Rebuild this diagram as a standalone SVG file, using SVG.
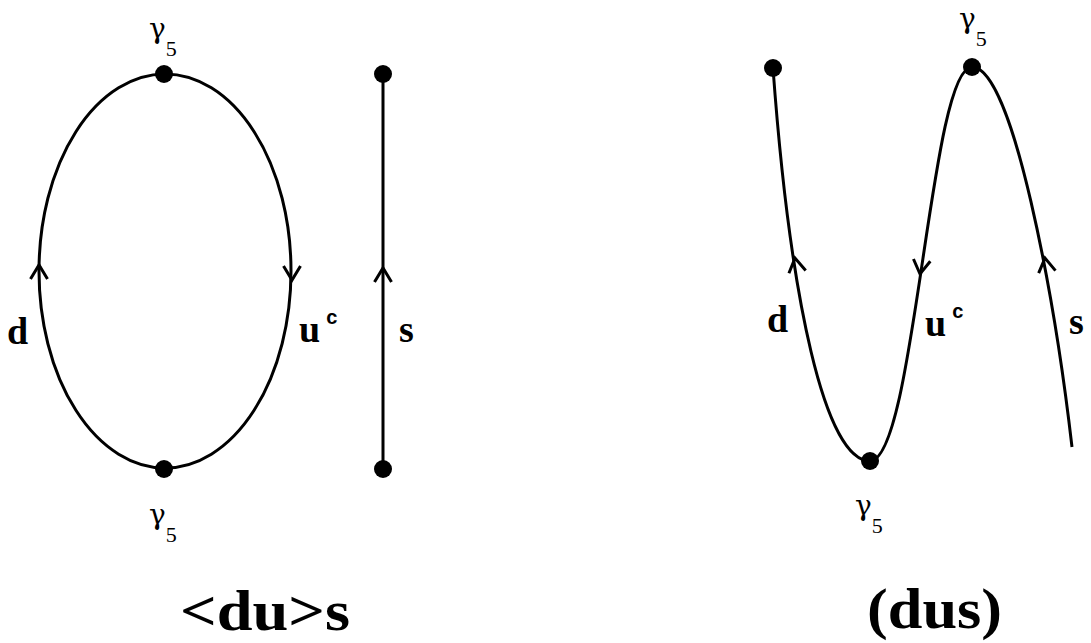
<svg xmlns="http://www.w3.org/2000/svg" width="1091" height="643" viewBox="0 0 1091 643">
<style>
.ln{fill:none;stroke:#000;stroke-width:3}
.ch{fill:none;stroke:#000;stroke-width:3;stroke-linejoin:miter}
.dot{fill:#000}
.g{font-family:"DejaVu Serif","Liberation Serif",serif;font-size:28px;fill:#000}
.sub{font-family:"Liberation Serif",serif;font-size:22px}
.lb{font-family:"Liberation Serif",serif;font-weight:bold;font-size:38px;fill:#000}
.sup{font-family:"Liberation Sans",sans-serif;font-size:20px}
.tt{font-family:"Liberation Serif",serif;font-weight:bold;font-size:56px;fill:#000}
</style>
<defs>
<path id="chev" class="ch" d="M-8.5,14 L0,0 L8.5,14"/>
</defs>
<rect width="1091" height="643" fill="#fff"/>
<g id="connectors">
<ellipse class="ln" cx="165" cy="271" rx="126" ry="197"/>
<line class="ln" x1="383" y1="74" x2="383" y2="469"/>
<path class="ln" d="M773,68 C790,300 825,461 870,461 C915,461 930,67 972,67 C1013,67 1055,300 1072,447"/>
<use href="#chev" transform="translate(39,265)"/>
<use href="#chev" transform="translate(292,280) rotate(180)"/>
<use href="#chev" transform="translate(383,268)"/>
<use href="#chev" transform="translate(795,258) rotate(-9.5)"/>
<use href="#chev" transform="translate(920,274) rotate(187.7)"/>
<use href="#chev" transform="translate(1045,258) rotate(-8.5)"/>
</g>
<g id="n_top_left"><circle class="dot" cx="164" cy="74" r="9"/><text class="g" x="149" y="38">γ<tspan class="sub" dy="18">5</tspan></text></g>
<g id="n_bot_left"><circle class="dot" cx="164" cy="469" r="9"/><text class="g" x="149" y="524">γ<tspan class="sub" dy="18">5</tspan></text></g>
<g id="n_s_top"><circle class="dot" cx="383" cy="74" r="9"/></g>
<g id="n_s_bot"><circle class="dot" cx="383" cy="469" r="9"/></g>
<g id="n_r_start"><circle class="dot" cx="773" cy="68" r="9"/></g>
<g id="n_r_bot"><circle class="dot" cx="870" cy="461" r="9"/><text class="g" x="855" y="515">γ<tspan class="sub" dy="18">5</tspan></text></g>
<g id="n_r_top"><circle class="dot" cx="972" cy="67" r="9"/><text class="g" x="959" y="28">γ<tspan class="sub" dy="18">5</tspan></text></g>
<g id="labels">
<text class="lb" x="7" y="344">d</text>
<text class="lb" x="299" y="342">u<tspan class="sup" dx="6" dy="-18">c</tspan></text>
<text class="lb" x="399" y="342">s</text>
<text class="lb" x="767" y="332">d</text>
<text class="lb" x="925" y="336">u<tspan class="sup" dx="6" dy="-18">c</tspan></text>
<text class="lb" x="1069" y="334">s</text>
<text class="tt" x="180" y="630" textLength="170" lengthAdjust="spacingAndGlyphs">&lt;du&gt;s</text>
<text class="tt" x="867" y="628" textLength="135" lengthAdjust="spacingAndGlyphs">(dus)</text>
</g>
</svg>
